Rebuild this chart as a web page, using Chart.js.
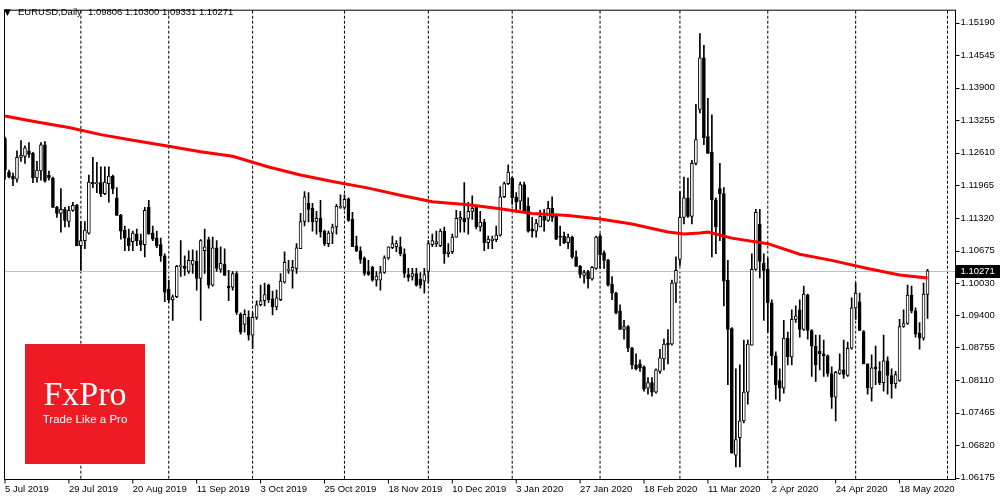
<!DOCTYPE html>
<html><head><meta charset="utf-8">
<script src="https://cdn.jsdelivr.net/npm/chart.js@4.4.1/dist/chart.umd.min.js"></script>
<style>html,body{margin:0;padding:0;background:#fff;}#wrap{width:1000px;height:500px;position:relative;}</style>
</head><body><div id="wrap"><canvas id="c" width="1000" height="500"></canvas></div>
<script>
const SYMBOL = 'EURUSD,Daily';
const LAST_BAR_TEXT = '1.09806 1.10300 1.09331 1.10271';
const START_DATE = '2019-07-05';
const HOLIDAYS = ['2019-12-25', '2020-01-01'];
const N_SLOTS = 239; // 232 daily bars + empty chart-shift space

const OPEN = [
1.1289,1.1223,1.1215,1.1209,1.1252,1.1254,1.1265,1.1260,1.1211,1.1225,
1.1277,1.1217,1.1211,1.1153,1.1141,1.1149,1.1125,1.1147,1.1157,1.1077,
1.1087,1.1102,1.1203,1.1200,1.1202,1.1180,1.1200,1.1215,1.1172,1.1137,
1.1108,1.1092,1.1085,1.1100,1.1087,1.1079,1.1153,1.1102,1.1092,1.1079,
1.1057,1.0991,1.0970,1.0976,1.1036,1.1036,1.1026,1.1040,1.1046,1.1012,
1.1067,1.1089,1.0999,1.1073,1.1030,1.1040,1.0997,1.0995,1.1022,1.0941,
1.0921,1.0935,1.0900,1.0935,1.0960,1.0968,1.0999,1.0972,1.0956,1.0970,
1.1005,1.1028,1.1028,1.1032,1.1071,1.1125,1.1161,1.1151,1.1125,1.1131,
1.1106,1.1081,1.1102,1.1114,1.1153,1.1153,1.1170,1.1129,1.1077,1.1067,
1.1052,1.1026,1.1034,1.1009,1.1009,1.1024,1.1053,1.1073,1.1075,1.1075,
1.1061,1.1020,1.1016,1.1022,1.1011,1.1007,1.1026,1.1079,1.1081,1.1077,
1.1106,1.1061,1.1065,1.1094,1.1129,1.1131,1.1131,1.1145,1.1153,1.1114,
1.1124,1.1083,1.1087,1.1089,1.1098,1.1174,1.1200,1.1211,1.1174,1.1165,
1.1198,1.1155,1.1110,1.1106,1.1114,1.1135,1.1127,1.1151,1.1135,1.1096,
1.1096,1.1083,1.1094,1.1055,1.1036,1.1018,1.1026,1.1011,1.1032,1.1096,
1.1063,1.1048,1.1001,1.0983,1.0948,1.0911,1.0917,1.0874,1.0841,1.0843,
1.0837,1.0795,1.0806,1.0787,1.0828,1.0853,1.0884,1.0882,1.1003,1.1050,
1.1133,1.1172,1.1135,1.1240,1.1347,1.1449,1.1293,1.1262,1.1168,1.1190,
1.1180,1.1009,1.0913,1.0662,1.0697,1.0730,1.0787,1.0880,1.1030,1.1120,
1.1042,1.1030,1.0964,1.0859,1.0810,1.0795,1.0894,1.0857,1.0931,1.0950,
1.0911,1.0979,1.0909,1.0878,1.0868,1.0863,1.0859,1.0824,1.0777,1.0824,
1.0831,1.0820,1.0874,1.0954,1.0966,1.0907,1.0843,1.0795,1.0837,1.0828,
1.0806,1.0849,1.0820,1.0804,1.0810,1.0917,1.0923,1.0979,1.0948,1.0904,
1.0894,1.09806];
const HIGH = [
1.1292,1.1227,1.1221,1.1265,1.1285,1.1275,1.1281,1.1262,1.1244,1.1281,
1.1283,1.1225,1.1213,1.1155,1.1190,1.1153,1.1155,1.1163,1.1159,1.1125,
1.1125,1.1217,1.1252,1.1242,1.1233,1.1233,1.1233,1.1217,1.1192,1.1139,
1.1116,1.1110,1.1106,1.1110,1.1100,1.1153,1.1167,1.1116,1.1106,1.1092,
1.1061,1.1009,1.0979,1.1038,1.1087,1.1057,1.1067,1.1069,1.1067,1.1089,
1.1110,1.1094,1.1094,1.1087,1.1075,1.1071,1.1028,1.1026,1.1026,1.0944,
1.0950,1.0948,1.0944,1.0968,1.0999,1.1003,1.1001,1.0987,1.0989,1.1022,
1.1065,1.1048,1.1048,1.1081,1.1141,1.1184,1.1182,1.1161,1.1145,1.1167,
1.1108,1.1106,1.1120,1.1159,1.1178,1.1178,1.1172,1.1143,1.1096,1.1075,
1.1055,1.1048,1.1036,1.1026,1.1036,1.1057,1.1075,1.1096,1.1087,1.1094,
1.1071,1.1032,1.1032,1.1032,1.1024,1.1032,1.1087,1.1100,1.1106,1.1110,
1.1114,1.1081,1.1100,1.1147,1.1145,1.1202,1.1163,1.1176,1.1157,1.1145,
1.1129,1.1096,1.1096,1.1116,1.1194,1.1203,1.1237,1.1213,1.1182,1.1203,
1.1203,1.1172,1.1133,1.1129,1.1147,1.1149,1.1165,1.1174,1.1137,1.1116,
1.1104,1.1100,1.1096,1.1067,1.1038,1.1028,1.1028,1.1036,1.1096,1.1100,
1.1067,1.1050,1.1016,1.0985,1.0960,1.0929,1.0919,1.0876,1.0863,1.0851,
1.0839,1.0816,1.0816,1.0833,1.0872,1.0892,1.0911,1.1009,1.1055,1.1184,
1.1213,1.1211,1.1246,1.1357,1.1497,1.1474,1.1369,1.1336,1.1172,1.1240,
1.1192,1.1048,1.0915,1.0833,1.0841,1.0890,1.0890,1.1061,1.1149,1.1149,
1.1061,1.1052,1.0970,1.0867,1.0833,1.0929,1.0906,1.0950,1.0958,1.0970,
1.0997,1.0981,1.0911,1.0900,1.0900,1.0890,1.0861,1.0837,1.0828,1.0863,
1.0890,1.0886,1.0974,1.1003,1.0983,1.0909,1.0843,1.0861,1.0878,1.0847,
1.0900,1.0857,1.0833,1.0828,1.0931,1.0950,1.0999,1.0997,1.0954,1.0925,
1.1003,1.10300];
const LOW = [
1.1209,1.1211,1.1196,1.1203,1.1244,1.1240,1.1252,1.1202,1.1203,1.1207,
1.1203,1.1207,1.1153,1.1133,1.1104,1.1114,1.1114,1.1145,1.1077,1.1028,
1.1071,1.1100,1.1192,1.1182,1.1174,1.1178,1.1163,1.1180,1.1137,1.1090,
1.1067,1.1067,1.1067,1.1077,1.1067,1.1055,1.1100,1.1087,1.1073,1.1046,
1.0966,1.0964,1.0929,1.0974,1.1016,1.1018,1.1022,1.1022,1.0989,1.0929,
1.1022,1.0993,1.0997,1.1026,1.1024,1.1018,1.0968,1.0989,1.0941,1.0902,
1.0906,1.0890,1.0873,1.0931,1.0958,1.0958,1.0964,1.0940,1.0950,1.0968,
1.1003,1.1022,1.0993,1.1022,1.1071,1.1116,1.1124,1.1106,1.1100,1.1094,
1.1077,1.1075,1.1081,1.1100,1.1151,1.1149,1.1125,1.1075,1.1065,1.1042,
1.1018,1.1018,1.1007,1.0997,1.0989,1.1022,1.1050,1.1071,1.1065,1.1057,
1.1014,1.1007,1.1009,1.0997,1.0993,1.0983,1.1003,1.1075,1.1075,1.1075,
1.1042,1.1055,1.1061,1.1094,1.1104,1.1104,1.1100,1.1129,1.1110,1.1106,
1.1067,1.1071,1.1071,1.1085,1.1096,1.1172,1.1198,1.1159,1.1143,1.1149,
1.1145,1.1104,1.1094,1.1094,1.1114,1.1106,1.1125,1.1125,1.1089,1.1077,
1.1081,1.1071,1.1052,1.1036,1.1013,1.1003,1.0993,1.1009,1.1030,1.1032,
1.1032,1.0997,1.0970,1.0942,1.0911,1.0892,1.0867,1.0833,1.0831,1.0828,
1.0789,1.0783,1.0779,1.0785,1.0824,1.0831,1.0843,1.0880,1.0964,1.1038,
1.1120,1.1133,1.1120,1.1237,1.1340,1.1277,1.1260,1.1055,1.1061,1.1087,
1.0958,1.0802,1.0666,1.0639,1.0639,1.0726,1.0763,1.0880,1.1028,1.1013,
1.0929,1.0906,1.0841,1.0773,1.0769,1.0785,1.0841,1.0841,1.0925,1.0896,
1.0909,1.0892,1.0818,1.0808,1.0831,1.0818,1.0818,1.0755,1.0730,1.0822,
1.0814,1.0818,1.0872,1.0931,1.0909,1.0843,1.0783,1.0769,1.0802,1.0802,
1.0789,1.0783,1.0775,1.0795,1.0808,1.0915,1.0921,1.0944,1.0896,1.0872,
1.0890,1.09331];
const CLOSE = [
1.1227,1.1213,1.1209,1.1252,1.1256,1.1271,1.1258,1.1211,1.1227,1.1277,
1.1205,1.1211,1.1153,1.1141,1.1149,1.1127,1.1147,1.1157,1.1077,1.1087,
1.1108,1.1203,1.1200,1.1202,1.1180,1.1203,1.1215,1.1190,1.1137,1.1106,
1.1092,1.1077,1.1102,1.1087,1.1079,1.1147,1.1100,1.1090,1.1077,1.1057,
1.0985,1.0970,1.0976,1.1036,1.1038,1.1032,1.1048,1.1048,1.1012,1.1087,
1.1075,1.0999,1.1073,1.1032,1.1042,1.1018,1.0993,1.1022,1.0945,1.0906,
1.0941,1.0900,1.0935,1.0960,1.0968,1.0980,1.0970,1.0956,1.0974,1.1007,
1.1044,1.1030,1.1034,1.1073,1.1125,1.1174,1.1149,1.1124,1.1131,1.1104,
1.1081,1.1102,1.1114,1.1155,1.1155,1.1169,1.1127,1.1075,1.1067,1.1050,
1.1022,1.1020,1.1009,1.1017,1.1024,1.1053,1.1075,1.1081,1.1081,1.1061,
1.1022,1.1014,1.1022,1.0999,1.0999,1.1020,1.1081,1.1087,1.1085,1.1106,
1.1061,1.1065,1.1094,1.1131,1.1133,1.1124,1.1145,1.1151,1.1114,1.1124,
1.1083,1.1090,1.1090,1.1098,1.1174,1.1200,1.1223,1.1172,1.1163,1.1198,
1.1145,1.1106,1.1106,1.1122,1.1135,1.1127,1.1151,1.1133,1.1090,1.1094,
1.1083,1.1094,1.1055,1.1036,1.1020,1.1024,1.1011,1.1034,1.1094,1.1059,
1.1048,1.0999,1.0983,1.0944,1.0911,1.0917,1.0874,1.0841,1.0833,1.0835,
1.0793,1.0806,1.0787,1.0831,1.0855,1.0882,1.0880,1.1003,1.1028,1.1133,
1.1172,1.1135,1.1240,1.1287,1.1449,1.1291,1.1260,1.1168,1.1114,1.1180,
1.1007,1.0911,1.0666,1.0693,1.0730,1.0787,1.0882,1.1030,1.1143,1.1046,
1.1028,1.0964,1.0859,1.0802,1.0795,1.0894,1.0857,1.0931,1.0938,1.0911,
1.0981,1.0909,1.0878,1.0841,1.0863,1.0859,1.0824,1.0777,1.0826,1.0831,
1.0822,1.0874,1.0954,1.0983,1.0909,1.0843,1.0795,1.0835,1.0833,1.0806,
1.0849,1.0820,1.0804,1.0822,1.0917,1.0923,1.0979,1.0948,1.0902,1.0894,
1.0981,1.10271];

// Red moving average, read at these bar indices
const MA_INDEX = [0,8,16,24,32,41,49,57,66,74,82,91,99,107,116,124,132,141,149,157,166,170,174,176,182,191,199,207,216,224,231];
const MA_VALUE = [1.1334,1.1322,1.1311,1.1297,1.1286,1.1274,1.1263,1.1254,1.1233,1.1217,1.1204,1.1191,1.1177,1.1164,1.1158,1.1150,1.1141,1.1137,1.1130,1.1120,1.1104,1.1100,1.1102,1.1104,1.1092,1.1081,1.1060,1.1048,1.1032,1.1019,1.1013];

const X_TICK_LABELS = ['5 Jul 2019','29 Jul 2019','20 Aug 2019','11 Sep 2019','3 Oct 2019','25 Oct 2019','18 Nov 2019','10 Dec 2019','3 Jan 2020','27 Jan 2020','18 Feb 2020','11 Mar 2020','2 Apr 2020','24 Apr 2020','18 May 2020'];
const GRID_DATES = ['1 Aug 2019','2 Sep 2019','1 Oct 2019','1 Nov 2019','2 Dec 2019','2 Jan 2020','3 Feb 2020','2 Mar 2020','1 Apr 2020','1 May 2020','3 Jun 2020'];
const Y_TICKS = [1.15190,1.14545,1.13900,1.13255,1.12610,1.11965,1.11320,1.10675,1.10030,1.09400,1.08755,1.08110,1.07465,1.06820,1.06175];
const LAST_PRICE = 1.10271;
const Y_MIN = 1.06150, Y_MAX = 1.15424;

const MONTHS = ['Jan','Feb','Mar','Apr','May','Jun','Jul','Aug','Sep','Oct','Nov','Dec'];
function tradingDays(start, count, holidays) {
  const out = []; const d = new Date(start + 'T00:00:00Z');
  while (out.length < count) {
    const dow = d.getUTCDay(); const iso = d.toISOString().slice(0, 10);
    if (dow !== 0 && dow !== 6 && !holidays.includes(iso)) out.push(d.getUTCDate() + ' ' + MONTHS[d.getUTCMonth()] + ' ' + d.getUTCFullYear());
    d.setUTCDate(d.getUTCDate() + 1);
  }
  return out;
}
const CATEGORIES = tradingDays(START_DATE, N_SLOTS, HOLIDAYS);

const FONT_FAMILY = "'Liberation Sans', Arial, sans-serif";
const FONT = { family: FONT_FAMILY, size: 9.5 };
const isUp = CLOSE.map((c, i) => c >= OPEN[i]);

const decor = {
  id: 'decor',
  beforeDatasetsDraw(chart) {
    const { ctx, chartArea: ca, scales: { x, y } } = chart;
    ctx.save();
    ctx.strokeStyle = '#000'; ctx.lineWidth = 1; ctx.setLineDash([3, 2]);
    GRID_DATES.forEach(d => {
      const i = CATEGORIES.indexOf(d); if (i < 0) return;
      const px = x.getPixelForValue(i);
      ctx.beginPath(); ctx.moveTo(px, ca.top); ctx.lineTo(px, ca.bottom); ctx.stroke();
    });
    ctx.setLineDash([]);
    const py = Math.round(y.getPixelForValue(LAST_PRICE)) + 0.5;
    ctx.strokeStyle = '#c0c0c0';
    ctx.beginPath(); ctx.moveTo(ca.left, py); ctx.lineTo(ca.right, py); ctx.stroke();
    ctx.restore();
  },
  afterDraw(chart) {
    const { ctx, chartArea: ca, scales: { x, y } } = chart;
    ctx.save();
    // frame
    ctx.strokeStyle = '#000'; ctx.lineWidth = 1;
    const L = Math.floor(ca.left) - 0.5, T = ca.top - 0.5, R = ca.right, B = ca.bottom + 0.5;
    ctx.strokeRect(L, T, R - L, B - T);
    // y tick marks
    ctx.beginPath();
    Y_TICKS.forEach(v => { const py = Math.round(y.getPixelForValue(v)) + 0.5; ctx.moveTo(R, py); ctx.lineTo(R + 4, py); });
    // x tick marks
    X_TICK_LABELS.forEach(d => { const i = CATEGORIES.indexOf(d); const px = x.getPixelForValue(i); ctx.moveTo(px, B); ctx.lineTo(px, B + 4); });
    ctx.stroke();
    // current price box
    const py = y.getPixelForValue(LAST_PRICE);
    ctx.fillStyle = '#000';
    ctx.fillRect(R + 0.5, Math.round(py) - 6, 1000 - R, 13);
    ctx.fillStyle = '#fff'; ctx.font = '9.5px ' + FONT_FAMILY; ctx.textBaseline = 'middle'; ctx.textAlign = 'left';
    ctx.fillText(LAST_PRICE.toFixed(5), R + 5, Math.round(py) + 0.5);
    // header
    ctx.fillStyle = '#000'; ctx.textBaseline = 'alphabetic';
    ctx.font = '9px "DejaVu Sans", sans-serif';
    ctx.fillText('\u25BC', 4, 15);
    ctx.font = '9.5px ' + FONT_FAMILY;
    ctx.fillText(SYMBOL, 18, 15);
    const symW = ctx.measureText(SYMBOL).width;
    ctx.fillText(LAST_BAR_TEXT, Math.max(88, 18 + symW + 6), 15);
    // logo
    ctx.fillStyle = '#ee1b24';
    ctx.fillRect(25, 344, 120, 120);
    ctx.fillStyle = '#fff'; ctx.textAlign = 'center';
    ctx.font = '34px "Liberation Serif", "DejaVu Serif", serif';
    ctx.fillText('FxPro', 85, 405);
    ctx.font = '11.5px ' + FONT_FAMILY;
    ctx.fillText('Trade Like a Pro', 85, 423);
    ctx.restore();
  }
};

new Chart(document.getElementById('c').getContext('2d'), {
  type: 'bar',
  data: {
    labels: CATEGORIES,
    datasets: [
      { label: 'wick', data: LOW.map((l, i) => [l, HIGH[i]]), backgroundColor: '#000', borderWidth: 0,
        barThickness: 1, grouped: false, order: 3 },
      { label: 'body', data: OPEN.map((o, i) => [o, CLOSE[i]]), backgroundColor: isUp.map(u => u ? '#fff' : '#000'),
        borderColor: '#000', borderWidth: 1, borderSkipped: false, barThickness: 3, minBarLength: 1, grouped: false, order: 2 },
      { type: 'line', label: 'MA', data: MA_INDEX.map((k, j) => ({ x: CATEGORIES[k], y: MA_VALUE[j] })),
        borderColor: '#ff0000', borderWidth: 3, pointRadius: 0, tension: 0, fill: false, order: 1 }
    ]
  },
  options: {
    responsive: false, animation: false, events: [],
    layout: { padding: { left: 3.5, top: 3, right: 0, bottom: 0 }, autoPadding: false },
    plugins: { legend: { display: false }, tooltip: { enabled: false }, title: { display: false } },
    scales: {
      x: {
        type: 'category', offset: false,
        grid: { display: false, drawTicks: false, offset: false }, border: { display: false },
        ticks: { autoSkip: false, maxRotation: 0, minRotation: 0, align: 'start', padding: 5, color: '#000', font: FONT,
          callback: function (v) { const l = this.getLabelForValue(v); return X_TICK_LABELS.includes(l) ? l : ''; } },
        afterFit: s => { s.height = 21; }
      },
      y: {
        type: 'linear', position: 'right', min: Y_MIN, max: Y_MAX,
        grid: { display: false, drawTicks: false }, border: { display: false },
        ticks: { padding: 5, color: '#000', font: FONT, callback: v => Number(v).toFixed(5) },
        afterBuildTicks: s => { s.ticks = Y_TICKS.map(v => ({ value: v })); },
        afterFit: s => { s.width = 44.5; }
      }
    }
  },
  plugins: [decor]
});
</script>
</body></html>
